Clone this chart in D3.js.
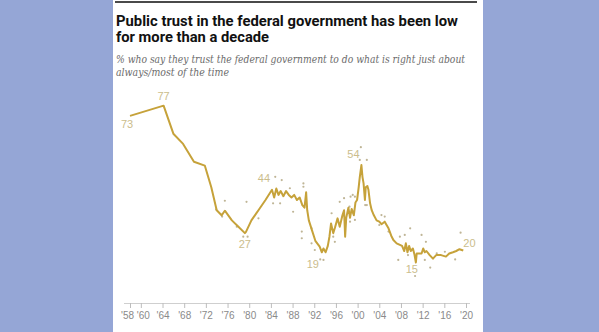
<!DOCTYPE html>
<html>
<head>
<meta charset="utf-8">
<script src="https://cdn.jsdelivr.net/npm/d3@7"></script>
<style>
  html, body { margin: 0; padding: 0; background: #95a6d6; }
  svg { display: block; }
</style>
</head>
<body>
<svg id="chart" width="599" height="332"></svg>
<script>
// trend line (smoothed average of polls)
const lineYears = [1958, 1964.2, 1966, 1967.8, 1969.8, 1971.8, 1973, 1974, 1974.9, 1975.5, 1976.8, 1978, 1979.2, 1979.4,
  1980.4, 1981.7, 1983, 1984.2, 1984.6, 1985, 1985.4, 1985.8, 1986.3, 1986.8, 1987.3, 1987.8, 1988.3, 1988.8, 1989.3,
  1989.8, 1990.2, 1990.5, 1990.7, 1991, 1991.6, 1992.2, 1993, 1993.4, 1993.7, 1994.1, 1994.5, 1994.8, 1995.1, 1995.5,
  1995.8, 1996.3, 1996.7, 1997.2, 1997.5, 1997.7, 1997.9, 1998.3, 1998.6, 1998.9, 1999.3, 1999.6, 1999.9, 2000.2,
  2000.4, 2000.7, 2000.9, 2001.1, 2001.35, 2001.5, 2001.8, 2002, 2002.3, 2002.6, 2003, 2003.5, 2004, 2004.4, 2005,
  2005.4, 2005.7, 2006.2, 2006.6, 2007.2, 2007.8, 2008.2, 2008.6, 2008.9, 2009.2, 2009.5, 2009.8, 2010.2, 2010.5,
  2010.75, 2010.9, 2011.4, 2011.8, 2012.1, 2012.4, 2012.7, 2013.3, 2013.9, 2014.5, 2015.4, 2016.3, 2016.9, 2017.6,
  2018.2, 2018.8, 2019.5];
const lineValues = [73, 77, 66, 62, 55, 53.5, 45, 36, 34, 35.8, 32, 29.5, 27, 27.5,
  32, 36, 40, 44, 41, 44.5, 42, 43.5, 41.5, 43.5, 42, 41, 42, 40, 41,
  38, 37, 43, 36, 32, 28, 24, 21.7, 19.5, 21, 19.5, 22, 25.6, 30.8, 27,
  29, 32.8, 29.5, 34, 36, 25.6, 33, 37, 33, 36.5, 34, 39, 40, 45,
  49, 53.7, 49, 46.5, 40, 45, 45.5, 44, 38.7, 36, 34, 32, 31.5, 30.5, 31.5,
  30, 28.9, 26, 24.3, 23, 22.4, 22, 20, 23, 19.5, 22, 20, 21, 18.5,
  15.5, 19, 19, 19, 21, 19.5, 20, 18.4, 17, 18.4, 18.4, 17.8, 19, 19.5,
  20, 20.7, 20.2];

// individual poll readings
const pollYears = [1973.9, 1975.0, 1975.5, 1977.7, 1978.9, 1979.5, 1979.7, 1981.7, 1984.4, 1984.8, 1985.7, 1986.0,
  1987.5, 1988.1, 1989.7, 1989.7, 1990.0, 1990.0, 1991.5, 1991.5, 1992.1, 1993.1, 1993.7, 1995.2, 1995.5, 1995.8,
  1996.7, 1997.5, 1998.5, 1998.6, 1998.7, 1999.1, 1999.5, 1999.5, 2000.4, 2000.6, 2001.4, 2001.7, 2001.7, 2004.0,
  2004.4, 2005.0, 2005.7, 2007.5, 2007.8, 2008.7, 2009.3, 2009.7, 2010.6, 2011.8, 2012.4, 2012.6, 2013.4, 2014.6,
  2016.1, 2018.0, 2019.0];
const pollValues = [36.3, 33.5, 39.7, 29.5, 25.6, 39.3, 25.6, 32.8, 38.7, 49.1, 38.7, 47.8,
  44.6, 35.4, 27.6, 25.0, 46.5, 45.2, 28.9, 23.0, 20.4, 16.7, 16.5, 34.8, 25.6, 23.6,
  39.3, 40.7, 37.4, 31.5, 41.3, 42, 32.2, 41.3, 55.7, 60.7, 38, 55.7, 38, 30.2,
  34.1, 33.5, 27.6, 16.5, 25.6, 26.3, 18.4, 28.9, 10.2, 26.3, 16.5, 23.6, 13.5, 19.1,
  19.7, 16.7, 27.2];

// annotated values
const labelText = ['73', '77', '44', '27', '19', '54', '15', '20'];
const labelYears = [1958, 1964.2, 1984.2, 1979.2, 1993.4, 2000.7, 2010.75, 2019.5];
const labelValues = [73, 77, 44, 27, 19.5, 53.7, 15.5, 20.2];

const tickYears = [1958, 1960, 1964, 1968, 1972, 1976, 1980, 1984, 1988, 1992, 1996, 2000, 2004, 2008, 2012, 2016, 2020];
const tickLabels = ["'58", "'60", "'64", "'68", "'72", "'76", "'80", "'84", "'88", "'92", "'96", "'00", "'04", "'08", "'12", "'16", "'20"];

const svg = d3.select('#chart');

// white card over the blue backdrop
svg.append('rect')
  .attr('x', 113).attr('y', 0)
  .attr('width', 370).attr('height', 332)
  .attr('fill', '#ffffff');

svg.append('rect')
  .attr('x', 115).attr('y', 1)
  .attr('width', 362).attr('height', 2)
  .attr('fill', '#4a4a4a');

// title + subtitle, stretched to the measured widths
function fitText(t, w) {
  t.attr('textLength', w).attr('lengthAdjust', 'spacingAndGlyphs');
}
const titleFont = 'Roboto, "Liberation Sans", Arial, sans-serif';
fitText(svg.append('text').attr('x', 116).attr('y', 25.5)
  .style('font-family', titleFont).style('font-weight', 700).style('font-size', '14.5px').attr('fill', '#111')
  .text('Public trust in the federal government has been low'), 342);
fitText(svg.append('text').attr('x', 116).attr('y', 41.5)
  .style('font-family', titleFont).style('font-weight', 700).style('font-size', '14.5px').attr('fill', '#111')
  .text('for more than a decade'), 153);

const subFont = 'Georgia, "DejaVu Serif", "Liberation Serif", serif';
fitText(svg.append('text').attr('x', 116).attr('y', 63)
  .style('font-family', subFont).style('font-style', 'italic').style('font-size', '10.5px').attr('fill', '#6b6b6b')
  .text('% who say they trust the federal government to do what is right just about'), 349);
fitText(svg.append('text').attr('x', 116).attr('y', 75.5)
  .style('font-family', subFont).style('font-style', 'italic').style('font-size', '10.5px').attr('fill', '#6b6b6b')
  .text('always/most of the time'), 113);

const x = d3.scaleLinear().domain([1958, 2020]).range([130, 466]);
const y = d3.scaleLinear().domain([0, 100]).range([302, 47]);

// axis
const axis = svg.append('g').attr('transform', 'translate(0,303)')
  .call(d3.axisBottom(x).tickValues(tickYears).tickSize(5).tickPadding(4)
    .tickFormat((d, i) => tickLabels[i]));
axis.select('.domain').attr('d', 'M124,0.5H470').attr('stroke', '#cfcfcf');
axis.selectAll('.tick line').attr('stroke', '#bdbdbd');
axis.selectAll('.tick text')
  .attr('fill', '#8a8a8a')
  .style('font-family', '"Liberation Sans", Arial, sans-serif')
  .style('font-size', '10px')
  .attr('dx', (d, i) => i === 0 ? -3 : i === 1 ? 2 : 0);

// poll dots
svg.append('g').selectAll('circle')
  .data(pollYears.map((yr, i) => [yr, pollValues[i]]))
  .join('circle')
  .attr('cx', d => x(d[0]))
  .attr('cy', d => y(d[1]))
  .attr('r', 1.1)
  .attr('fill', '#bfb596');

// trend line
svg.append('path')
  .datum(lineYears.map((yr, i) => [yr, lineValues[i]]))
  .attr('fill', 'none')
  .attr('stroke', '#c6a23a')
  .attr('stroke-width', 2)
  .attr('stroke-linejoin', 'round')
  .attr('d', d3.line().x(d => x(d[0])).y(d => y(d[1])));

// value labels
const labelOffset = {
  '73': [-3, 12, 'middle'], '77': [0, -6, 'middle'], '44': [-8, -8, 'middle'], '27': [0, 15, 'middle'],
  '19': [-9, 16, 'middle'], '54': [-8, -7, 'middle'], '15': [-4, 11, 'middle'], '20': [0, -3, 'start']
};
svg.append('g').selectAll('text')
  .data(labelText.map((t, i) => ({ t, yr: labelYears[i], v: labelValues[i] })))
  .join('text')
  .attr('x', d => x(d.yr) + labelOffset[d.t][0])
  .attr('y', d => y(d.v) + labelOffset[d.t][1])
  .attr('text-anchor', d => labelOffset[d.t][2])
  .attr('fill', '#cbbd8c')
  .style('font-family', '"Liberation Sans", Arial, sans-serif')
  .style('font-size', '11px')
  .text(d => d.t);
</script>
</body>
</html>
